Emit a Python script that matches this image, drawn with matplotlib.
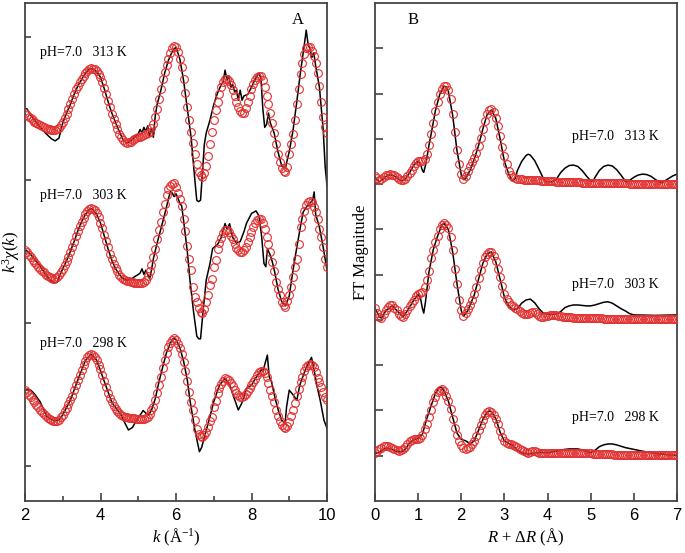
import numpy as np
import matplotlib
matplotlib.use("Agg")
import matplotlib.pyplot as plt
from matplotlib.ticker import FixedLocator

plt.rcParams['font.family'] = ['Liberation Serif', 'DejaVu Serif']
plt.rcParams['mathtext.fontset'] = 'custom'
plt.rcParams['mathtext.rm'] = 'Liberation Serif'
plt.rcParams['mathtext.it'] = 'Liberation Serif:italic'

# ---------------- Panel A data (k-space) ----------------
k_start, k_stop, k_step = 2.0, 10.0, 0.05
a_labels = ["pH=7.0   313 K", "pH=7.0   303 K", "pH=7.0   298 K"]
a_offsets = [25, 15, 5]

a313_fit = [
    -0.30, -0.42, -0.55, -0.68, -0.80, -0.90, -1.00, -1.08, -1.15, -1.23,
    -1.30, -1.35, -1.40, -1.44, -1.47, -1.50, -1.50, -1.45, -1.35, -1.15,
    -0.90, -0.62, -0.35, -0.02, 0.30, 0.68, 1.05, 1.35, 1.60, 1.85,
    2.05, 2.30, 2.50, 2.66, 2.78, 2.82, 2.80, 2.75, 2.65, 2.45,
    2.20, 1.85, 1.45, 1.00, 0.55, 0.10, -0.35, -0.75, -1.10, -1.45,
    -1.75, -2.00, -2.20, -2.32, -2.38, -2.35, -2.30, -2.22, -2.15, -2.08,
    -2.00, -1.95, -1.90, -1.84, -1.78, -1.70, -1.60, -1.38, -1.05, -0.55,
    0.00, 0.70, 1.40, 2.05, 2.60, 3.08, 3.50, 3.90, 4.25, 4.40,
    4.30, 3.95, 3.50, 2.90, 2.10, 1.10, 0.10, -0.80, -1.60, -2.40,
    -3.20, -3.85, -4.40, -4.65, -4.75, -4.50, -4.00, -3.30, -2.50, -1.60,
    -0.80, -0.10, 0.50, 1.05, 1.50, 1.85, 2.05, 2.05, 1.95, 1.65,
    1.30, 0.90, 0.50, 0.15, -0.15, -0.30, -0.30, 0.05, 0.45, 0.90,
    1.35, 1.70, 2.00, 2.20, 2.32, 2.30, 2.00, 1.50, 0.90, 0.30,
    -0.30, -1.00, -1.70, -2.50, -3.20, -3.75, -4.15, -4.38, -4.40, -4.05,
    -3.20, -2.50, -1.80, -0.80, 0.30, 1.40, 2.40, 3.20, 3.80, 4.25,
    4.35, 4.30, 4.05, 3.70, 3.20, 2.50, 1.60, 0.50, -0.60, -1.30,
    -1.70]

a303_fit = [
    0.10, -0.02, -0.20, -0.40, -0.55, -0.72, -0.88, -1.04, -1.18, -1.32,
    -1.45, -1.60, -1.70, -1.78, -1.85, -1.88, -1.85, -1.78, -1.65, -1.45,
    -1.20, -0.92, -0.65, -0.36, -0.02, 0.35, 0.70, 1.10, 1.45, 1.78,
    2.10, 2.38, 2.62, 2.85, 2.97, 3.02, 3.00, 2.90, 2.70, 2.40,
    2.02, 1.62, 1.18, 0.75, 0.30, -0.13, -0.50, -0.87, -1.15, -1.38,
    -1.60, -1.75, -1.88, -1.96, -2.02, -2.07, -2.12, -2.15, -2.18, -2.20,
    -2.22, -2.22, -2.20, -2.12, -1.99, -1.70, -1.35, -0.90, -0.36, 0.20,
    0.90, 1.50, 2.10, 2.75, 3.35, 3.95, 4.35, 4.60, 4.72, 4.77,
    4.50, 4.10, 3.70, 3.20, 2.30, 1.45, 0.40, -0.50, -1.30, -2.45,
    -3.16, -3.55, -3.92, -4.25, -4.28, -4.00, -3.55, -3.00, -2.35, -1.88,
    -1.10, -0.55, 0.15, 0.60, 0.98, 1.30, 1.50, 1.48, 1.35, 1.10,
    0.85, 0.52, 0.25, 0.08, -0.05, -0.05, 0.12, 0.35, 0.65, 1.00,
    1.40, 1.75, 2.00, 2.20, 2.30, 2.28, 2.02, 1.55, 1.03, 0.55,
    0.00, -0.71, -1.35, -2.10, -2.60, -3.00, -3.51, -3.75, -3.86, -3.45,
    -3.00, -2.45, -1.80, -1.06, -0.50, 0.50, 1.70, 2.25, 2.85, 3.25,
    3.48, 3.52, 3.45, 3.15, 2.75, 2.25, 1.60, 1.05, 0.34, -0.50,
    -1.10]

a298_fit = [
    0.31, 0.15, 0.00, -0.20, -0.38, -0.55, -0.72, -0.88, -1.05, -1.22,
    -1.38, -1.52, -1.63, -1.72, -1.78, -1.82, -1.85, -1.84, -1.75, -1.60,
    -1.42, -1.18, -0.95, -0.68, -0.40, -0.08, 0.30, 0.65, 1.02, 1.38,
    1.71, 2.05, 2.38, 2.60, 2.76, 2.83, 2.78, 2.64, 2.40, 2.10,
    1.78, 1.35, 0.92, 0.50, 0.12, -0.27, -0.55, -0.78, -1.00, -1.15,
    -1.30, -1.42, -1.50, -1.55, -1.59, -1.62, -1.64, -1.66, -1.67, -1.68,
    -1.69, -1.70, -1.71, -1.70, -1.65, -1.55, -1.35, -1.10, -0.85, -0.40,
    0.12, 0.70, 1.20, 1.85, 2.40, 2.88, 3.30, 3.62, 3.85, 3.93,
    3.80, 3.55, 3.25, 2.85, 2.30, 1.65, 0.95, 0.20, -0.50, -1.10,
    -1.78, -2.40, -2.75, -2.92, -2.95, -2.85, -2.65, -2.25, -1.85, -1.55,
    -0.90, -0.45, 0.10, 0.45, 0.75, 0.98, 1.13, 1.12, 1.03, 0.82,
    0.60, 0.35, 0.12, -0.05, -0.15, -0.20, -0.10, 0.05, 0.25, 0.45,
    0.66, 0.88, 1.10, 1.35, 1.55, 1.66, 1.65, 1.52, 1.20, 0.78,
    0.35, -0.10, -0.55, -1.05, -1.50, -1.85, -2.13, -2.30, -2.36, -2.22,
    -1.95, -1.50, -1.05, -0.62, -0.10, 0.40, 0.85, 1.25, 1.62, 1.90,
    2.08, 2.13, 2.05, 1.90, 1.55, 1.18, 0.85, 0.55, 0.20, -0.15,
    -0.35]

a313_line_k = [2.00, 2.05, 2.15, 2.3, 2.45, 2.6, 2.7, 2.8, 2.9, 3.0,
               3.1, 3.2, 3.3, 3.4, 3.5, 3.6, 3.7, 3.75, 3.8, 3.9,
               4.0, 4.1, 4.2, 4.3, 4.45, 4.6, 4.7, 4.8, 4.9, 5.0,
               5.05, 5.1, 5.15, 5.2, 5.25, 5.3, 5.35, 5.4, 5.45, 5.5,
               5.6, 5.7, 5.8, 5.9, 5.95, 6.0, 6.1, 6.2, 6.3, 6.4,
               6.45, 6.5, 6.55, 6.6, 6.65, 6.7, 6.75, 6.8, 6.9, 7.0,
               7.1, 7.2, 7.25, 7.3, 7.35, 7.4, 7.45, 7.5, 7.55, 7.6,
               7.65, 7.7, 7.75, 7.8, 7.9, 8.0, 8.1, 8.2, 8.25, 8.3,
               8.35, 8.4, 8.45, 8.5, 8.6, 8.7, 8.8, 8.85, 8.9, 9.0,
               9.1, 9.2, 9.3, 9.4, 9.45, 9.5, 9.55, 9.6, 9.65, 9.7,
               9.8, 9.9, 9.95, 10.0]
a313_line_y = [-0.05, 0.0, -0.45, -0.95, -1.45, -1.85, -2.1, -2.25, -2.05, -1.0,
               -0.3, 0.3, 1.0, 1.6, 2.05, 2.5, 2.78, 2.8, 2.78, 2.6,
               2.2, 1.4, 0.5, -0.3, -1.3, -2.2, -2.4, -2.25, -2.0, -1.75,
               -1.45, -1.7, -1.3, -1.6, -1.2, -1.9, -1.4, -2.0, -0.5, 0.3,
               1.3, 2.5, 3.4, 4.0, 4.2, 4.3, 3.5, 2.0, 0.0, -2.0,
               -3.5, -5.0, -6.4, -6.5, -6.4, -4.5, -2.5, -1.7, -0.8, 0.3,
               1.1, 1.7, 1.9, 2.7, 2.0, 2.3, 1.5, 1.7, 1.2, 1.3,
               0.6, 1.3, 0.6, 0.9, 1.0, 1.5, 2.1, 2.5, 2.1, 0.0,
               -1.3, -1.1, -0.3, -1.0, -1.7, -3.0, -4.0, -4.1, -4.1, -3.0,
               -1.5, 0.5, 2.6, 4.5, 5.5, 4.5, 4.2, 3.6, 3.9, 3.0,
               1.5, -1.5, -4.0, -5.4]

a303_line_k = [2.0, 2.1, 2.2, 2.3, 2.4, 2.5, 2.6, 2.7, 2.8, 2.85,
               2.9, 3.0, 3.1, 3.2, 3.3, 3.4, 3.5, 3.6, 3.7, 3.75,
               3.8, 3.9, 4.0, 4.1, 4.2, 4.3, 4.4, 4.5, 4.6, 4.7,
               4.8, 4.9, 5.0, 5.05, 5.1, 5.15, 5.2, 5.25, 5.3, 5.35,
               5.4, 5.5, 5.6, 5.7, 5.8, 5.85, 5.9, 5.95, 6.0, 6.05,
               6.1, 6.15, 6.2, 6.3, 6.37, 6.46, 6.55, 6.6, 6.65, 6.72,
               6.8, 6.9, 6.97, 7.05, 7.1, 7.2, 7.3, 7.35, 7.42, 7.5,
               7.6, 7.7, 7.8, 7.87, 8.0, 8.12, 8.2, 8.27, 8.33, 8.38,
               8.42, 8.49, 8.55, 8.62, 8.7, 8.8, 8.9, 9.0, 9.1, 9.2,
               9.3, 9.37, 9.45, 9.55, 9.62, 9.66, 9.7, 9.8, 9.9, 10.0]
a303_line_y = [0.15, -0.05, -0.35, -0.7, -1.0, -1.4, -1.8, -2.05, -2.18, -2.15,
               -1.8, -1.2, -0.65, 0.0, 0.7, 1.45, 2.1, 2.6, 2.95, 3.0,
               2.95, 2.6, 2.0, 1.1, 0.2, -0.6, -1.2, -1.6, -1.9, -2.0,
               -1.95, -1.76, -1.6, -1.5, -1.2, -1.6, -1.3, -1.6, -1.9, -1.3,
               -0.5, 0.6, 1.6, 2.6, 3.7, 4.2, 4.1, 3.85, 4.05, 3.75,
               3.4, 3.2, 2.2, 0.0, -2.0, -4.1, -5.9, -6.1, -6.1, -4.1,
               -2.0, -0.83, 0.22, 0.4, 0.5, 1.0, 1.97, 1.6, 1.95, 1.0,
               0.6, 0.7, 1.4, 2.0, 2.67, 2.85, 2.5, 1.03, -0.83, -1.06,
               0.2, -0.2, -0.7, -1.5, -2.6, -3.5, -3.8, -3.1, -1.3, 0.3,
               1.8, 2.78, 3.1, 3.4, 3.6, 4.18, 2.6, 1.7, 0.3, -1.3]

a298_line_k = [2.0, 2.05, 2.15, 2.25, 2.4, 2.57, 2.7, 2.8, 2.9, 3.0,
               3.2, 3.4, 3.6, 3.75, 3.9, 4.1, 4.3, 4.45, 4.52, 4.6,
               4.74, 4.85, 4.93, 5.0, 5.05, 5.13, 5.2, 5.27, 5.35, 5.45,
               5.55, 5.65, 5.75, 5.85, 5.93, 6.0, 6.1, 6.2, 6.3, 6.37,
               6.5, 6.62, 6.68, 6.77, 6.9, 7.0, 7.15, 7.3, 7.42, 7.56,
               7.65, 7.74, 7.87, 8.0, 8.1, 8.2, 8.27, 8.3, 8.42, 8.47,
               8.53, 8.62, 8.71, 8.8, 8.89, 8.93, 9.0, 9.11, 9.2, 9.28,
               9.42, 9.55, 9.59, 9.66, 9.73, 9.82, 9.92, 10.0]
a298_line_y = [0.31, 0.33, 0.31, 0.05, -0.5, -1.5, -1.75, -1.85, -1.78, -1.42,
               -0.4, 1.02, 2.38, 2.83, 2.4, 0.92, -0.55, -1.1, -1.3, -1.75,
               -2.48, -2.3, -1.9, -1.6, -1.43, -1.12, -1.3, -1.45, -1.1, -0.3,
               0.9, 1.95, 2.95, 3.6, 3.93, 3.85, 3.3, 2.35, 1.0, -0.4,
               -2.48, -4.0, -3.7, -2.8, -1.55, -0.5, 0.66, 1.13, 0.66, -0.4,
               -1.08, -0.62, 0.43, 0.66, 1.1, 1.5, 1.8, 1.6, 2.76, 1.24,
               0.9, -0.2, -1.1, -1.8, -2.0, -0.85, 0.31, -0.05, -0.4, 0.66,
               1.7, 2.41, 2.6, 1.7, 0.66, -0.4, -1.8, -2.36]

# ---------------- Panel B data (R-space) ----------------
r_start, r_stop, r_step = 0.0, 7.0, 0.05
b_labels = ["pH=7.0   313 K", "pH=7.0   303 K", "pH=7.0   298 K"]
b_offsets = [7, 4, 1]

b313_fit = [
    0.18, 0.13, 0.10, 0.12, 0.16, 0.19, 0.21, 0.22, 0.21, 0.19,
    0.16, 0.12, 0.10, 0.10, 0.12, 0.18, 0.25, 0.32, 0.40, 0.46,
    0.50, 0.52, 0.52, 0.56, 0.66, 0.86, 1.10, 1.36, 1.62, 1.82,
    1.98, 2.10, 2.16, 2.16, 2.07, 1.87, 1.55, 1.15, 0.76, 0.45,
    0.22, 0.12, 0.18, 0.30, 0.40, 0.48, 0.57, 0.68, 0.84, 1.02,
    1.22, 1.40, 1.54, 1.63, 1.65, 1.60, 1.47, 1.28, 1.06, 0.83,
    0.62, 0.44, 0.30, 0.21, 0.16, 0.14, 0.12, 0.11, 0.11, 0.10,
    0.10, 0.09, 0.09, 0.09, 0.09, 0.08, 0.08, 0.07, 0.07, 0.07,
    0.06, 0.06, 0.06, 0.06, 0.05, 0.05, 0.05, 0.05, 0.05, 0.04,
    0.04, 0.04, 0.04, 0.04, 0.04, 0.04, 0.03, 0.03, 0.03, 0.03,
    0.03, 0.03, 0.03, 0.03, 0.03, 0.02, 0.02, 0.02, 0.02, 0.02,
    0.02, 0.02, 0.02, 0.02, 0.02, 0.02, 0.02, 0.02, 0.01, 0.01,
    0.01, 0.01, 0.01, 0.01, 0.01, 0.01, 0.01, 0.01, 0.01, 0.01,
    0.01, 0.01, 0.01, 0.01, 0.01, 0.01, 0.01, 0.01, 0.01, 0.01,
    0.01]

b303_fit = [
    0.26, 0.15, 0.07, 0.05, 0.12, 0.22, 0.29, 0.33, 0.32, 0.27,
    0.21, 0.14, 0.09, 0.07, 0.14, 0.22, 0.30, 0.37, 0.45, 0.53,
    0.57, 0.59, 0.62, 0.72, 0.88, 1.08, 1.36, 1.55, 1.72, 1.85,
    2.00, 2.10, 2.13, 2.10, 2.02, 1.84, 1.55, 1.12, 0.80, 0.45,
    0.22, 0.08, 0.15, 0.25, 0.34, 0.45, 0.57, 0.72, 0.92, 1.10,
    1.26, 1.38, 1.46, 1.50, 1.50, 1.42, 1.30, 1.13, 0.95, 0.76,
    0.57, 0.46, 0.39, 0.34, 0.30, 0.27, 0.24, 0.20, 0.16, 0.14,
    0.12, 0.12, 0.15, 0.18, 0.17, 0.13, 0.09, 0.07, 0.07, 0.08,
    0.09, 0.10, 0.10, 0.10, 0.10, 0.09, 0.08, 0.07, 0.06, 0.06,
    0.06, 0.06, 0.05, 0.05, 0.05, 0.05, 0.05, 0.05, 0.04, 0.04,
    0.04, 0.04, 0.04, 0.04, 0.04, 0.04, 0.03, 0.03, 0.03, 0.03,
    0.03, 0.03, 0.03, 0.03, 0.03, 0.03, 0.03, 0.02, 0.02, 0.02,
    0.02, 0.02, 0.02, 0.02, 0.02, 0.02, 0.02, 0.02, 0.02, 0.02,
    0.02, 0.02, 0.02, 0.02, 0.02, 0.02, 0.02, 0.02, 0.02, 0.02,
    0.02]

b298_fit = [
    0.07, 0.11, 0.15, 0.18, 0.21, 0.22, 0.21, 0.20, 0.18, 0.15,
    0.12, 0.11, 0.12, 0.15, 0.19, 0.26, 0.32, 0.35, 0.37, 0.37,
    0.37, 0.39, 0.45, 0.58, 0.70, 0.86, 1.02, 1.18, 1.30, 1.40,
    1.46, 1.47, 1.43, 1.33, 1.21, 1.03, 0.82, 0.62, 0.45, 0.32,
    0.23, 0.18, 0.15, 0.16, 0.19, 0.25, 0.33, 0.43, 0.56, 0.68,
    0.80, 0.89, 0.96, 0.99, 0.97, 0.91, 0.82, 0.69, 0.54, 0.42,
    0.33, 0.29, 0.27, 0.26, 0.24, 0.22, 0.19, 0.15, 0.12, 0.10,
    0.08, 0.07, 0.09, 0.11, 0.10, 0.08, 0.06, 0.05, 0.05, 0.05,
    0.06, 0.06, 0.07, 0.07, 0.07, 0.07, 0.07, 0.07, 0.07, 0.07,
    0.07, 0.07, 0.07, 0.07, 0.06, 0.06, 0.06, 0.05, 0.05, 0.05,
    0.05, 0.04, 0.04, 0.04, 0.04, 0.03, 0.03, 0.03, 0.03, 0.03,
    0.03, 0.02, 0.02, 0.02, 0.02, 0.02, 0.02, 0.02, 0.01, 0.01,
    0.01, 0.01, 0.01, 0.01, 0.01, 0.01, 0.01, 0.01, 0.01, 0.01,
    0.01, 0.01, 0.01, 0.01, 0.01, 0.01, 0.01, 0.01, 0.01, 0.01,
    0.01]

b313_line_r = [0.0, 0.1, 0.2, 0.3, 0.4, 0.5, 0.6, 0.7, 0.8, 0.9,
               1.0, 1.05, 1.1, 1.13, 1.18, 1.25, 1.3, 1.4, 1.5, 1.6,
               1.65, 1.7, 1.8, 1.9, 2.0, 2.05, 2.1, 2.2, 2.3, 2.4,
               2.5, 2.6, 2.7, 2.8, 2.9, 3.0, 3.1, 3.18, 3.25, 3.3,
               3.4, 3.5, 3.55, 3.6, 3.7, 3.8, 3.9, 3.95, 4.1, 4.2,
               4.3, 4.4, 4.5, 4.6, 4.7, 4.8, 4.9, 5.0, 5.05, 5.1,
               5.2, 5.3, 5.4, 5.5, 5.6, 5.7, 5.8, 5.85, 5.9, 6.0,
               6.1, 6.2, 6.3, 6.4, 6.5, 6.6, 6.65, 6.7, 6.8, 6.9,
               7.0]
b313_line_y = [0.15, 0.05, 0.12, 0.2, 0.2, 0.15, 0.07, 0.1, 0.25, 0.42,
               0.5, 0.45, 0.3, 0.26, 0.45, 0.85, 1.1, 1.62, 1.98, 2.16,
               2.15, 2.05, 1.52, 0.74, 0.2, 0.1, 0.12, 0.3, 0.55, 0.85,
               1.22, 1.54, 1.64, 1.45, 1.0, 0.5, 0.22, 0.07, 0.12, 0.3,
               0.5, 0.63, 0.66, 0.64, 0.52, 0.33, 0.13, 0.05, 0.05, 0.1,
               0.25, 0.35, 0.41, 0.42, 0.39, 0.3, 0.18, 0.07, 0.06, 0.15,
               0.3, 0.39, 0.42, 0.4, 0.32, 0.2, 0.07, 0.04, 0.08, 0.15,
               0.2, 0.22, 0.21, 0.17, 0.1, 0.04, 0.03, 0.06, 0.12, 0.18,
               0.22]

b303_line_r = [0.0, 0.1, 0.15, 0.25, 0.4, 0.5, 0.65, 0.75, 0.9, 1.0,
               1.05, 1.1, 1.13, 1.17, 1.25, 1.35, 1.45, 1.55, 1.6, 1.7,
               1.8, 1.9, 2.0, 2.05, 2.15, 2.3, 2.5, 2.6, 2.7, 2.8,
               2.9, 3.0, 3.1, 3.2, 3.3, 3.4, 3.5, 3.6, 3.7, 3.8,
               3.9, 4.0, 4.1, 4.2, 4.3, 4.4, 4.5, 4.6, 4.7, 4.8,
               4.9, 5.0, 5.1, 5.2, 5.3, 5.4, 5.5, 5.6, 5.7, 5.8,
               5.9, 6.0, 6.5, 7.0]
b303_line_y = [0.26, 0.07, 0.04, 0.2, 0.32, 0.21, 0.07, 0.2, 0.44, 0.56,
               0.5, 0.25, 0.15, 0.4, 1.05, 1.55, 1.85, 2.1, 2.13, 2.0,
               1.5, 0.8, 0.2, 0.08, 0.2, 0.55, 1.25, 1.46, 1.5, 1.28,
               0.9, 0.5, 0.3, 0.22, 0.25, 0.37, 0.44, 0.46, 0.38, 0.25,
               0.15, 0.13, 0.12, 0.13, 0.18, 0.27, 0.31, 0.33, 0.33, 0.32,
               0.31, 0.31, 0.33, 0.36, 0.39, 0.4, 0.37, 0.31, 0.25, 0.2,
               0.14, 0.11, 0.1, 0.11]

b298_line_r = [0.0, 0.1, 0.2, 0.3, 0.4, 0.5, 0.6, 0.7, 0.8, 0.9,
               1.0, 1.1, 1.2, 1.3, 1.4, 1.5, 1.55, 1.6, 1.7, 1.8,
               1.9, 2.0, 2.1, 2.15, 2.2, 2.3, 2.4, 2.5, 2.6, 2.65,
               2.7, 2.8, 2.9, 3.0, 3.1, 3.2, 3.3, 3.4, 3.5, 3.6,
               3.7, 3.8, 3.9, 4.0, 4.1, 4.2, 4.3, 4.4, 4.5, 4.6,
               4.7, 4.8, 4.9, 5.0, 5.1, 5.2, 5.3, 5.4, 5.5, 5.6,
               5.7, 5.8, 5.9, 6.0, 6.2, 6.4, 6.6, 6.8, 7.0]
b298_line_y = [0.05, 0.08, 0.15, 0.17, 0.14, 0.1, 0.08, 0.14, 0.28, 0.36,
               0.38, 0.48, 0.82, 1.1, 1.38, 1.52, 1.5, 1.43, 1.21, 0.85,
               0.5, 0.36, 0.33, 0.3, 0.25, 0.33, 0.56, 0.8, 0.96, 0.99,
               0.97, 0.82, 0.52, 0.32, 0.27, 0.22, 0.12, 0.07, 0.04, 0.04,
               0.06, 0.07, 0.07, 0.07, 0.08, 0.1, 0.12, 0.14, 0.15, 0.15,
               0.15, 0.13, 0.09, 0.07, 0.12, 0.2, 0.24, 0.26, 0.26, 0.24,
               0.21, 0.18, 0.16, 0.14, 0.1, 0.07, 0.04, 0.02, 0.01]

# ---------------- Figure ----------------
W, H = 685, 553
fig = plt.figure(figsize=(W / 100, H / 100), dpi=100)


def px_axes(l, r, t, b):
    return [l / W, 1 - b / H, (r - l) / W, (b - t) / H]


axA = fig.add_axes(px_axes(25, 327, 3, 501))
axB = fig.add_axes(px_axes(375, 677, 3, 501))

red = '#e3302f'
spine_col = '#444444'
mk = dict(ls='none', marker='o', ms=5.6, mfc='none', mec=red, mew=0.8, zorder=3)
ln = dict(color='black', lw=1.1, zorder=2)

k_fit = np.arange(k_start, k_stop + 1e-9, k_step)
a_fits = [a313_fit, a303_fit, a298_fit]
a_lines = [(a313_line_k, a313_line_y), (a303_line_k, a303_line_y), (a298_line_k, a298_line_y)]
for off, fit, (lk, ly) in zip(a_offsets, a_fits, a_lines):
    axA.plot(lk, np.array(ly) + off, **ln)
    axA.plot(k_fit, np.array(fit) + off, **mk)

r_fit = np.arange(r_start, r_stop + 1e-9, r_step)
b_fits = [b313_fit, b303_fit, b298_fit]
b_lines = [(b313_line_r, b313_line_y), (b303_line_r, b303_line_y), (b298_line_r, b298_line_y)]
for off, fit, (lr, ly) in zip(b_offsets, b_fits, b_lines):
    axB.plot(lr, np.array(ly) + off, **ln)
    axB.plot(r_fit, np.array(fit) + off, **mk)

# Axes A
axA.set_xlim(2, 10)
axA.set_ylim(-2.45, 32.4)
axA.xaxis.set_major_locator(FixedLocator([2, 4, 6, 8, 10]))
axA.xaxis.set_minor_locator(FixedLocator([3, 5, 7, 9]))
axA.yaxis.set_major_locator(FixedLocator([0, 10, 20, 30]))
axA.tick_params(axis='x', which='major', direction='in', length=6, width=1.2, color=spine_col,
                labelsize=12, pad=5)
axA.tick_params(axis='x', which='minor', direction='in', length=3.5, width=1.2, color=spine_col)
axA.tick_params(axis='y', which='major', direction='in', length=4.5, width=1.2, color=spine_col,
                labelleft=False)
axA.set_xlabel(r'$k$ (Å$^{\mathrm{-1}}$)', fontsize=12, labelpad=3)
axA.set_ylabel(r'$k^3\chi(k)$', fontsize=12, labelpad=2)

# Axes B
axB.set_xlim(0, 7)
axB.set_ylim(0, 11)
axB.xaxis.set_major_locator(FixedLocator(list(range(0, 8))))
axB.yaxis.set_major_locator(FixedLocator(list(range(1, 11))))
axB.tick_params(axis='x', which='major', direction='in', length=6, width=1.2, color=spine_col,
                labelsize=12, pad=5)
axB.tick_params(axis='y', which='major', direction='in', length=6, width=1.2, color=spine_col,
                labelleft=False)
axB.set_xlabel(r'$R$ + $\mathit{ΔR}$ (Å)', fontsize=12, labelpad=3)
axB.set_ylabel('FT Magnitude', fontsize=12, labelpad=4)

for ax in (axA, axB):
    for s in ax.spines.values():
        s.set_color(spine_col)
        s.set_linewidth(1.3)
    for lab in ax.get_xticklabels():
        lab.set_family(['Liberation Sans', 'DejaVu Sans'])

# Panel letters and condition labels
axA.text(0.904, 0.965, 'A', transform=axA.transAxes, fontsize=12, ha='center', va='center')
axB.text(0.126, 0.965, 'B', transform=axB.transAxes, fontsize=12, ha='center', va='center')

a_label_y = [0.900, 0.614, 0.317]
for t, yy in zip(a_labels, a_label_y):
    axA.text(0.05, yy, t, transform=axA.transAxes, fontsize=10, ha='left', va='center')
b_label_y = [0.731, 0.434, 0.167]
for t, yy in zip(b_labels, b_label_y):
    axB.text(0.652, yy, t, transform=axB.transAxes, fontsize=10, ha='left', va='center')

fig.savefig('out.png', dpi=100)
